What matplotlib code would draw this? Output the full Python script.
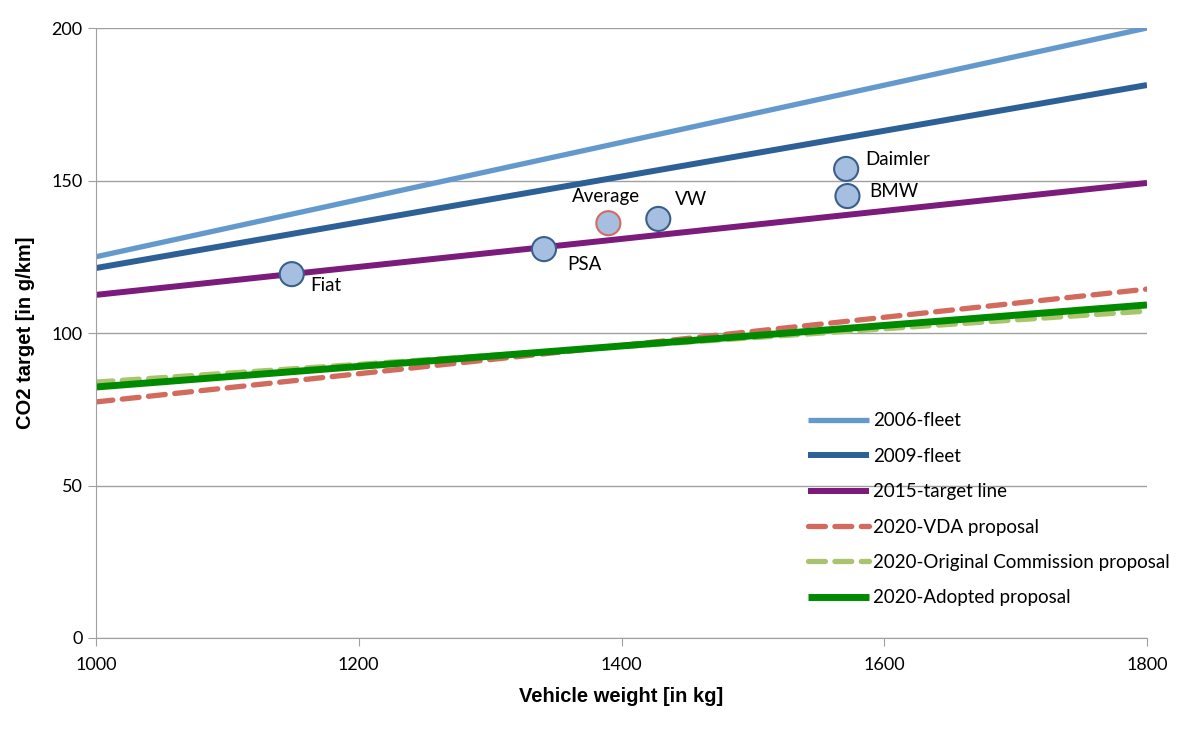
import matplotlib
matplotlib.use("Agg")
import matplotlib.pyplot as plt

# weight range (kg)
weights = [1000, 1800]

# CO2 target lines (g/km) at 1000 kg and 1800 kg
fleet_2006 = [125, 200]
fleet_2009 = [121.3, 181.3]
target_2015 = [112.5, 149.2]
vda_2020 = [77.4, 114.4]
orig_2020 = [83.9, 107.2]
adopted_2020 = [82.3, 109.2]

# manufacturers
makers = ["Fiat", "PSA", "Average", "VW", "Daimler", "BMW"]
maker_weight = [1149, 1341, 1390, 1428, 1571, 1572]
maker_co2 = [119.3, 127.5, 136.0, 137.4, 153.8, 144.9]

plt.rcParams["font.family"] = ["Lato", "DejaVu Sans"]

fig = plt.figure(figsize=(11.84, 7.39), dpi=100)
ax = fig.add_axes([96 / 1184, 101 / 739, 1051 / 1184, 610 / 739])

ax.plot(weights, fleet_2006, color="#6399cc", lw=3.8, solid_capstyle="butt", label="2006-fleet")
ax.plot(weights, fleet_2009, color="#2d6096", lw=4.3, solid_capstyle="butt", label="2009-fleet")
ax.plot(weights, target_2015, color="#7b1b7b", lw=4.3, solid_capstyle="butt", label="2015-target line")
ax.plot(weights, vda_2020, color="#d26a5e", lw=3.8, ls=(0, (3.2, 1.8)), dash_capstyle="round",
        label="2020-VDA proposal")
ax.plot(weights, orig_2020, color="#a9c46c", lw=3.8, ls=(0, (3.2, 1.8)), dash_capstyle="round",
        label="2020-Original Commission proposal")
ax.plot(weights, adopted_2020, color="#008a00", lw=5.0, solid_capstyle="butt",
        label="2020-Adopted proposal")

edges = ["#d46b5f" if m == "Average" else "#3a5f8a" for m in makers]
ax.scatter(maker_weight, maker_co2, s=300, c="#a6bfe0", edgecolors=edges, linewidths=1.5, zorder=5)

# label offsets in points, relative to the marker
offsets = {"Fiat": (13, -8), "PSA": (17, -11), "Average": (-2, 19), "VW": (12, 14),
           "Daimler": (14, 6.5), "BMW": (16, 3)}
for m, wx, cy in zip(makers, maker_weight, maker_co2):
    ax.annotate(m, (wx, cy), xytext=offsets[m], textcoords="offset points", fontsize=13.5,
                ha="center" if m == "Average" else "left", va="center")

ax.set_xlim(1000, 1800)
ax.set_ylim(0, 200)
ax.set_xticks([1000, 1200, 1400, 1600, 1800])
ax.set_yticks([0, 50, 100, 150, 200])
ax.grid(axis="y", color="#a0a0a0", lw=1.0)
ax.set_axisbelow(True)
for s in ["top", "right"]:
    ax.spines[s].set_visible(False)
for s in ["left", "bottom"]:
    ax.spines[s].set_color("#a0a0a0")
ax.tick_params(axis="both", colors="#a0a0a0", length=6, labelcolor="black", labelsize=13)
ax.tick_params(axis="x", pad=8)

ax.set_xlabel("Vehicle weight [in kg]", fontsize=14.5, fontweight="bold",
              family="Liberation Sans", labelpad=10)
ax.set_ylabel("CO2 target [in g/km]", fontsize=14.5, fontweight="bold",
              family="Liberation Sans", labelpad=12)

ax.legend(loc="upper left", bbox_to_anchor=(800 / 1184, 1 - 405 / 739),
          bbox_transform=fig.transFigure, frameon=False, fontsize=13.5,
          handlelength=3.3, handletextpad=0.2, labelspacing=0.98, borderaxespad=0)

fig.savefig("out.png", dpi=100)
